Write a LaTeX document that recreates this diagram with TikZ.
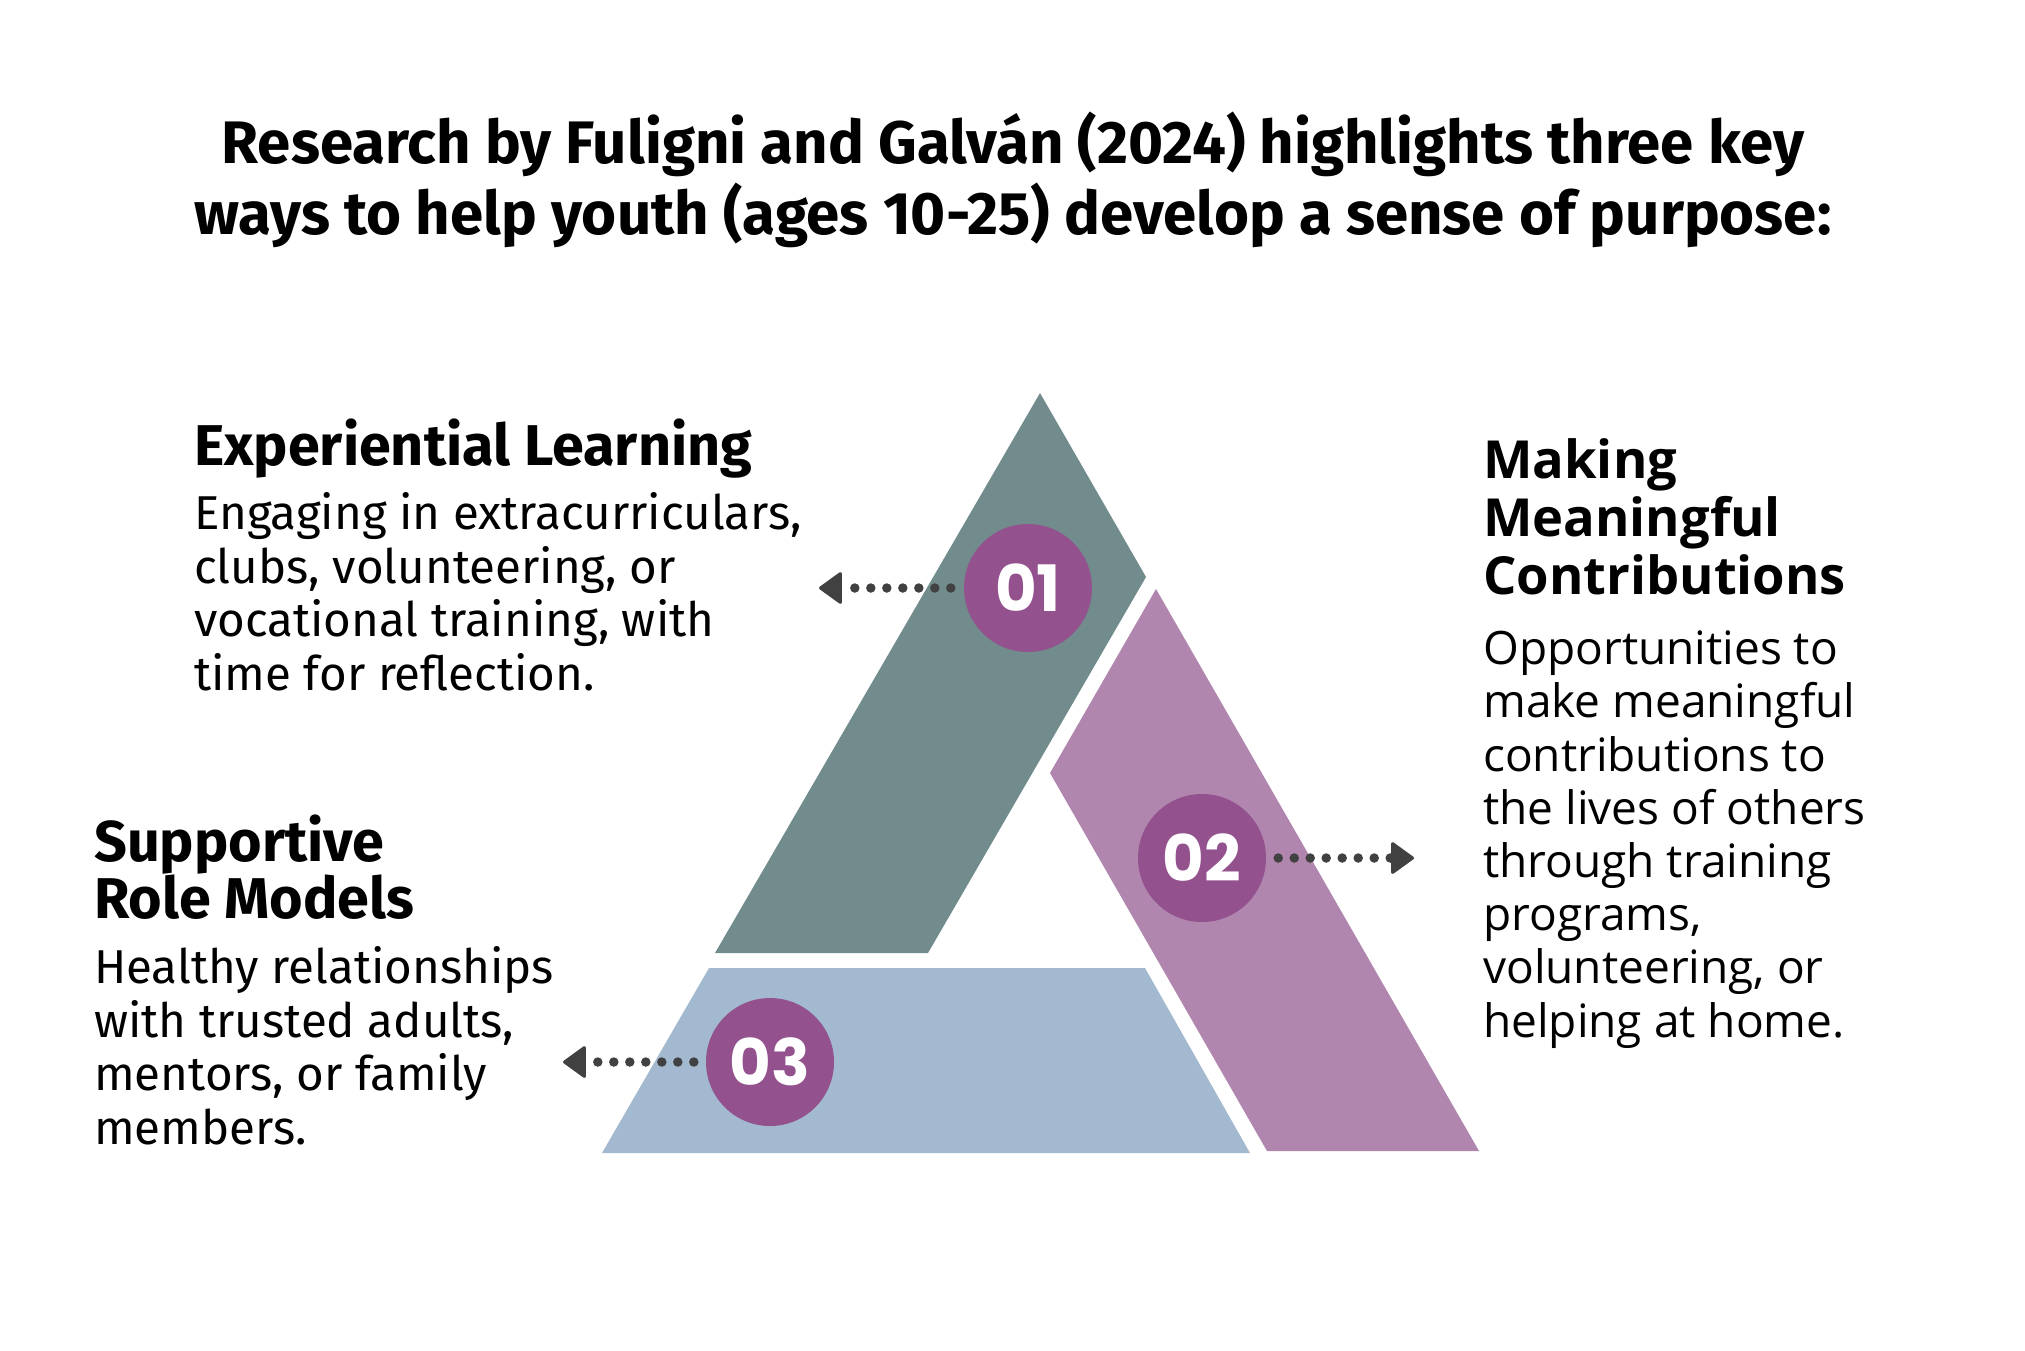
\documentclass[tikz,border=0pt]{standalone}
\usepackage{fontspec}
\setmainfont{Fira Sans}
\newfontfamily\rightfont{Open Sans}
\newfontfamily\numfont{Poppins}
\usetikzlibrary{arrows.meta}
\definecolor{cgreen}{HTML}{728C8E}
\definecolor{cpink}{HTML}{B085AE}
\definecolor{cblue}{HTML}{A3B9CF}
\definecolor{cpurple}{HTML}{93518E}
\definecolor{cdark}{HTML}{414141}
\tikzset{
  numcircle/.style={circle, fill=cpurple, minimum size=128pt, inner sep=0pt, text=white, font=\numfont\bfseries\fontsize{64}{68}\selectfont},
  dotarrow/.style={cdark, line width=9.5pt, line cap=round, dash pattern=on 0pt off 16pt,
    -{Triangle[length=24pt, width=34pt, line width=3pt, round]}},
  titletext/.style={anchor=base, align=center, inner sep=0pt, font=\bfseries\fontsize{60}{71}\selectfont},
  headleft/.style={anchor=base west, align=left, inner sep=0pt, font=\bfseries\fontsize{57.5}{57}\selectfont},
  bodyleft/.style={anchor=base west, align=left, inner sep=0pt, font=\fontsize{47.5}{53.5}\selectfont},
  headright/.style={anchor=base west, align=left, inner sep=0pt, font=\rightfont\bfseries\fontsize{52.5}{58}\selectfont},
  bodyright/.style={anchor=base west, align=left, inner sep=0pt, font=\rightfont\fontsize{46}{53.2}\selectfont},
}
\begin{document}
\begin{tikzpicture}[x=1pt, y=-1pt]
\useasboundingbox[fill=white] (0,0) rectangle (2025,1350);
% shapes
\fill[cgreen] (1040,393) -- (1146,577) -- (928,953) -- (715,953) -- cycle;
\fill[cpink] (1156,589) -- (1479,1151) -- (1267,1151) -- (1050,773) -- cycle;
\fill[cblue] (709,968) -- (1145,968) -- (1250,1153) -- (602,1153) -- cycle;
% circles
\node[numcircle] (c1) at (1028,588) {01};
\node[numcircle] (c2) at (1202,858) {02};
\node[numcircle] (c3) at (770,1062) {03};
% arrow ends
\coordinate (t1) at (819,588);
\coordinate (t2) at (1414,858);
\coordinate (t3) at (563,1062);
\draw[dotarrow] ([xshift=-13pt]c1.west) -- (t1);
\draw[dotarrow] ([xshift=12pt]c2.east) -- (t2);
\draw[dotarrow] ([xshift=-12pt]c3.west) -- (t3);
% title
\node[titletext] (title) at (1013,234) {Research by Fuligni and Galván (2024) highlights three key\\ways to help youth (ages 10-25) develop a sense of purpose:};
% left top
\node[headleft] (h1) at (194,465) {Experiential Learning};
\node[bodyleft] (b1) at (194,690) {Engaging in extracurriculars,\\clubs, volunteering, or\\vocational training, with\\time for reflection.};
% left bottom
\node[headleft] (h3) at (94,918) {Supportive\\Role Models};
\node[bodyleft] (b3) at (94,1144) {Healthy relationships\\with trusted adults,\\mentors, or family\\members.};
% right
\node[headright] (h2) at (1483,594) {Making\\Meaningful\\Contributions};
\node[bodyright] (b2) at (1483,1037) {Opportunities to\\make meaningful\\contributions to\\the lives of others\\through training\\programs,\\volunteering, or\\helping at home.};
\end{tikzpicture}
\end{document}
